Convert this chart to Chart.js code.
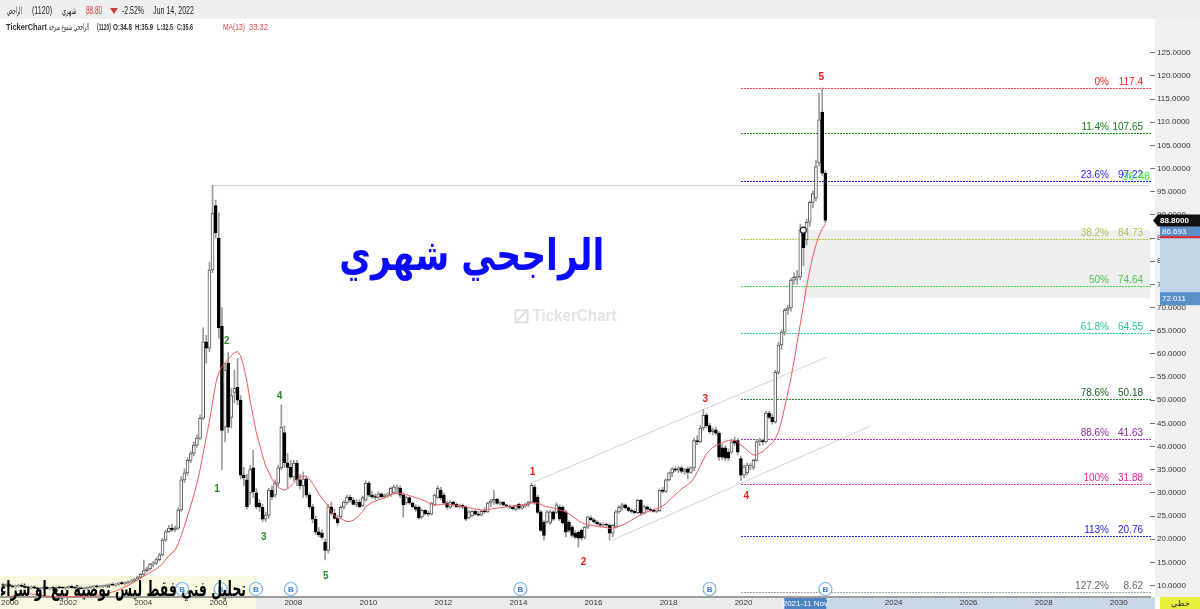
<!DOCTYPE html>
<html>
<head>
<meta charset="utf-8">
<script src="https://cdn.jsdelivr.net/npm/chart.js@4.4.0/dist/chart.umd.min.js"></script>
<style>
  html, body { margin: 0; padding: 0; background: #fff; }
  #wrap { width: 1200px; height: 609px; position: relative; }
</style>
</head>
<body>
<div id="wrap"><canvas id="chart"></canvas></div>
<script>
// --- Data: Al Rajhi (1120), monthly candles Jul 2000 .. Jun 2022 ---
const FIRST_YEAR = 2000, FIRST_MONTH = 7;

// [open, high, low, close], one row per year
const candles = [
  [10.1,10.5,9.8,10.0],[10.0,10.4,9.7,10.2],[10.2,10.5,9.8,9.9],[9.9,10.2,9.5,9.7],[9.7,10.1,9.4,9.9],[9.9,10.3,9.6,10.0],
  [10.0,10.4,9.7,9.8],[9.8,10.1,9.4,9.6],[9.6,9.9,9.2,9.5],[9.5,9.9,9.2,9.7],[9.7,10.0,9.3,9.4],[9.4,9.7,9.0,9.3],[9.3,9.6,8.9,9.4],[9.4,9.8,9.1,9.6],[9.6,9.9,9.2,9.3],[9.3,9.6,9.0,9.5],[9.5,9.8,9.2,9.4],[9.4,9.8,9.1,9.6],
  [9.6,9.9,9.3,9.5],[9.5,9.8,9.2,9.4],[9.4,9.8,9.1,9.6],[9.6,10.0,9.3,9.8],[9.8,10.1,9.4,9.5],[9.5,9.8,9.2,9.4],[9.4,9.7,9.1,9.5],[9.5,9.8,9.2,9.3],[9.3,9.6,9.0,9.4],[9.4,9.8,9.1,9.6],[9.6,9.9,9.3,9.7],[9.7,10.0,9.4,9.8],
  [9.8,10.1,9.5,9.7],[9.7,10.0,9.4,9.8],[9.8,10.1,9.5,9.9],[9.9,10.3,9.6,10.0],[10.0,10.4,9.7,10.2],[10.2,10.6,9.9,10.1],[10.1,10.5,9.8,10.3],[10.3,10.7,10.0,10.5],[10.5,10.9,10.2,10.4],[10.4,10.8,10.1,10.6],[10.6,11.0,10.3,10.8],[10.8,11.3,10.5,11.0],
  [11.0,11.6,10.8,11.4],[11.4,12.0,11.1,11.8],[11.8,12.6,11.5,12.4],[12.4,15.5,12.2,13.2],[13.2,14.0,12.8,13.6],[13.6,14.8,13.3,14.6],[14.6,15.2,14.0,14.8],[14.8,16.0,14.5,15.6],[15.6,17.0,15.3,16.6],[16.6,20.2,16.4,19.8],[19.8,22.0,19.5,21.6],[21.6,23.0,21.5,22.4],
  [22.4,23.2,21.6,22.0],[22.0,22.8,21.6,22.4],[22.4,26.8,22.1,26.3],[26.3,33.5,26.0,32.8],[32.8,35.2,32.2,34.3],[34.3,37.6,33.8,37.0],[37.0,39.0,36.5,38.5],[38.5,41.0,38.0,40.3],[40.3,42.5,39.8,41.8],[41.8,46.8,41.5,46.1],[46.1,65.6,45.8,62.6],[62.6,64.0,58.0,61.2],
  [61.2,79.8,60.5,78.1],[78.1,96.4,77.5,90.4],[92.0,93.2,85.0,86.1],[85.0,90.4,63.4,65.6],[66.0,70.0,35.0,43.5],[44.2,58.0,41.0,56.5],[58.0,60.3,43.0,44.2],[46.3,52.5,44.0,51.0],[51.7,56.5,49.4,52.6],[52.8,59.0,49.0,50.0],[50.0,51.0,33.0,33.8],[33.8,35.5,31.5,33.2],
  [32.8,34.0,26.5,27.0],[30.0,36.0,27.5,35.0],[35.4,39.2,29.0,30.2],[30.0,31.0,26.5,27.0],[27.8,28.5,26.0,26.9],[26.9,27.5,23.8,24.3],[24.3,25.8,23.8,25.2],[25.2,31.0,24.5,30.6],[30.6,31.5,28.5,29.1],[29.5,32.8,29.0,32.1],[32.1,36.0,31.5,35.4],[35.4,49.0,35.0,44.2],
  [43.0,44.5,35.5,36.5],[36.5,38.5,31.0,35.5],[35.5,37.0,33.0,33.4],[33.4,37.0,32.5,36.4],[36.4,37.0,31.5,32.8],[32.8,34.0,30.8,31.5],[31.5,34.5,29.0,33.0],[33.0,33.5,29.0,29.5],[29.5,30.0,26.5,27.0],[27.0,27.5,23.5,24.3],[24.3,25.0,21.0,21.5],[21.6,22.5,20.5,20.9],
  [21.3,22.0,20.0,20.4],[19.4,20.0,15.5,17.6],[17.6,27.5,17.0,27.0],[27.0,28.0,25.2,25.6],[25.6,26.5,24.3,24.5],[24.5,25.2,23.0,23.5],[24.8,27.2,24.5,26.9],[26.9,28.3,26.5,28.0],[27.8,29.5,27.5,29.1],[29.1,29.5,28.0,28.4],[28.4,29.0,27.3,27.5],[27.5,28.6,27.0,28.0],
  [28.0,28.5,26.8,27.0],[27.2,29.3,27.0,29.0],[28.4,32.6,28.2,32.1],[32.1,32.5,29.2,29.5],[29.5,30.4,28.8,29.2],[29.2,29.8,28.6,29.0],[29.0,30.2,28.8,29.8],[29.8,30.0,28.9,29.2],[29.2,29.8,28.8,29.5],[29.5,30.0,29.0,29.6],[29.6,31.3,29.2,31.0],[30.0,31.6,29.8,31.3],
  [31.0,31.8,30.0,31.0],[31.0,31.5,29.0,29.5],[29.5,30.0,24.8,27.4],[27.8,29.3,27.5,29.0],[29.0,29.2,27.5,27.8],[27.8,28.0,26.8,27.0],[27.0,27.4,26.0,26.4],[26.9,27.2,24.3,24.6],[24.8,26.5,24.5,26.2],[26.2,26.4,25.2,25.5],[25.5,26.0,25.0,25.4],[25.4,28.0,25.2,27.8],
  [27.4,29.8,27.2,29.5],[29.0,31.5,28.8,31.0],[30.6,31.2,28.5,28.9],[29.5,30.0,27.5,27.8],[27.8,28.2,26.5,26.9],[26.9,28.3,26.6,28.0],[28.0,28.2,27.2,27.5],[27.5,27.8,26.8,27.0],[27.0,27.6,26.7,27.3],[27.3,27.6,26.6,26.9],[26.9,27.2,24.0,24.3],[24.6,26.2,24.5,25.9],
  [25.0,26.2,24.8,26.0],[26.0,26.3,25.2,25.4],[25.4,26.0,25.0,25.2],[25.2,26.2,25.0,26.0],[26.0,26.8,25.5,25.9],[25.9,28.0,25.7,27.8],[27.8,28.6,27.0,28.2],[28.2,30.6,27.5,28.6],[28.6,28.8,27.5,27.7],[27.7,28.2,27.3,28.0],[28.0,28.1,27.2,27.4],[27.4,27.6,26.9,27.2],
  [27.0,27.4,26.6,26.9],[26.9,27.2,26.3,26.6],[26.4,27.4,26.2,27.2],[27.5,27.8,26.5,26.7],[26.7,27.4,26.4,27.2],[27.2,27.8,26.8,27.5],[27.5,28.2,27.0,28.0],[28.0,32.1,27.8,31.6],[31.3,31.8,27.5,27.8],[29.1,29.5,25.5,25.8],[25.9,26.2,21.6,21.9],[23.7,24.0,19.8,20.8],
  [23.7,26.2,23.4,25.9],[23.5,26.3,23.2,25.9],[25.9,26.2,24.0,24.3],[25.8,27.8,25.5,27.4],[27.0,27.4,24.0,24.3],[26.9,27.2,23.2,23.5],[25.9,26.2,20.5,21.5],[23.7,24.0,21.5,21.9],[22.6,23.0,20.5,20.8],[21.3,21.8,20.2,20.4],[21.5,21.8,18.3,20.2],[21.9,22.2,19.8,20.2],
  [20.4,22.8,20.0,22.6],[22.6,25.0,22.3,24.8],[24.6,25.0,24.0,24.2],[24.2,24.5,23.4,23.7],[23.7,24.0,23.0,23.3],[23.3,23.6,22.6,23.0],[23.0,23.6,22.6,23.2],[23.2,23.5,22.5,23.0],[23.0,23.3,19.8,21.3],[21.3,23.2,20.5,23.0],[22.6,26.2,22.4,25.9],[25.9,27.2,25.6,26.9],
  [26.9,27.8,26.2,27.4],[27.4,27.6,26.5,26.8],[26.8,27.0,25.9,26.2],[26.2,26.6,25.7,26.0],[26.0,26.4,25.4,25.7],[25.7,28.6,25.5,28.4],[28.4,28.6,25.2,25.6],[25.6,27.3,25.4,27.0],[27.0,27.2,26.2,26.5],[26.5,26.8,25.9,26.2],[26.2,26.4,25.8,26.0],[26.0,26.3,25.7,26.1],
  [26.1,30.8,26.0,30.6],[30.6,31.2,30.0,30.3],[30.3,33.0,30.1,32.8],[32.8,34.5,32.5,34.3],[34.3,35.4,33.5,35.2],[35.2,35.6,34.6,34.9],[34.9,35.6,34.4,35.4],[35.4,35.8,34.2,34.6],[34.6,35.3,34.0,35.0],[35.2,35.6,33.0,34.4],[34.4,35.6,34.2,35.4],[35.4,41.8,34.8,41.3],
  [41.3,42.3,40.4,41.0],[41.0,44.5,40.8,44.0],[44.0,48.0,43.5,46.8],[46.8,47.2,44.0,44.5],[44.5,45.0,42.8,43.2],[43.2,44.0,42.5,43.6],[43.6,44.2,42.5,42.9],[42.9,43.2,37.0,37.7],[39.7,40.5,37.2,37.7],[39.7,40.2,37.0,37.5],[38.8,39.5,37.0,37.5],[38.8,41.5,38.5,41.0],
  [41.3,42.0,40.2,40.7],[41.3,41.8,38.2,38.8],[37.4,38.0,32.7,33.8],[33.8,36.0,33.2,35.6],[34.3,36.4,33.8,36.0],[35.8,36.4,35.0,36.0],[35.5,37.3,35.0,37.0],[37.0,41.5,36.8,41.0],[41.0,41.8,40.2,41.3],[41.3,41.6,40.3,41.0],[41.0,47.6,40.8,47.2],[47.2,47.6,46.0,46.3],
  [46.3,47.0,44.8,45.3],[45.3,56.5,45.0,56.0],[56.0,62.5,55.5,61.9],[61.9,65.2,61.0,64.7],[64.7,69.8,64.0,69.4],[69.4,70.5,68.5,69.9],[69.9,76.3,69.2,75.9],[75.9,77.5,75.0,76.5],[76.5,78.0,75.0,76.6],[76.6,88.0,76.0,86.7],[86.7,87.0,79.0,82.9],[84.6,89.0,83.5,88.4],
  [88.4,93.0,87.5,92.7],[92.7,95.2,91.5,94.6],[93.6,101.8,93.0,100.4],[101.2,116.3,100.5,110.5],[112.2,117.4,98.5,99.0],[99.0,99.5,88.2,88.8]
];

// MA(13), one value per candle
const ma13 = [
  7.2,7.3,7.5,7.7,7.9,8.0,
  8.1,8.2,8.2,8.2,8.1,8.0,7.9,7.8,7.7,7.7,7.6,7.6,
  7.6,7.6,7.6,7.6,7.6,7.6,7.6,7.6,7.6,7.6,7.7,7.8,
  7.9,8.0,8.1,8.2,8.4,8.6,8.8,9.1,9.4,9.7,10.0,10.4,
  10.8,11.2,11.6,12.0,12.4,12.8,13.2,13.6,14.1,14.8,15.6,16.4,
  17.0,17.6,19.0,20.8,22.8,25.0,27.2,29.5,32.0,35.0,38.5,42.0,
  45.5,49.5,53.5,56.0,57.2,58.0,58.8,59.6,60.3,60.5,59.5,57.2,
  54.0,50.0,46.5,43.0,40.5,38.0,35.8,34.5,33.0,32.0,31.2,30.8,
  30.6,30.8,31.5,32.2,32.8,33.4,33.6,33.6,33.0,32.0,31.0,29.8,
  28.8,28.0,27.0,26.0,25.0,24.5,24.5,24.1,23.8,23.8,24.1,24.6,
  25.2,26.0,27.0,27.5,27.9,28.2,28.5,28.7,29.0,29.3,29.6,29.8,
  29.9,29.9,29.8,29.6,29.4,29.2,28.9,28.8,28.5,28.2,27.9,27.6,
  27.4,27.4,27.5,27.6,27.6,27.5,27.4,27.3,27.2,27.1,27.0,26.8,
  26.6,26.5,26.4,26.3,26.3,26.4,26.5,26.6,26.7,26.8,26.9,27.0,
  27.1,27.2,27.2,27.3,27.4,27.5,27.6,27.8,27.9,27.8,27.5,27.2,
  27.0,26.9,26.7,26.5,26.3,26.1,25.9,25.5,25.0,24.5,24.0,23.6,
  23.3,23.1,23.0,22.9,22.8,22.7,22.6,22.5,22.3,22.4,22.6,22.8,
  23.0,23.3,23.7,24.1,24.5,24.9,25.3,25.6,25.9,26.2,26.4,26.6,
  26.8,27.2,27.7,28.3,29.0,29.6,30.2,30.8,31.3,31.8,32.3,33.2,
  34.5,35.8,37.2,38.4,39.2,39.8,40.2,40.5,40.8,41.1,41.3,41.4,
  41.3,40.9,40.3,39.8,39.2,38.6,38.2,38.2,38.6,38.9,39.5,40.2,
  40.7,41.8,43.0,45.5,48.5,51.5,54.8,58.5,62.5,66.5,70.5,74.5,
  78.0,81.0,83.5,85.5,87.0,88.0
];

const yTicks = [10,15,20,25,30,35,40,45,50,55,60,65,70,75,80,85,90,95,100,105,110,115,120,125];
const xYears = [2002,2004,2006,2008,2010,2012,2014,2016,2018,2020,2022,2024,2026,2028,2030];

// Fibonacci retracement
const fibPercents = ['0%','11.4%','23.6%','38.2%','50%','61.8%','78.6%','88.6%','100%','113%','127.2%'];
const fibValues   = [117.4,107.65,97.22,84.73,74.64,64.55,50.18,41.63,31.88,20.76,8.62];
const fibStart = 2020.17;

// Elliott wave labels (time, price)
const greenWaveText  = ['1','2','3','4','5'];
const greenWaveTime  = [2006.20,2006.46,2007.45,2007.87,2009.10];
const greenWavePrice = [30.8,62.8,20.5,50.9,12.0];
const redWaveText  = ['1','2','3','4','5'];
const redWaveTime  = [2014.61,2015.97,2019.22,2020.31,2022.31];
const redWavePrice = [34.5,15.1,50.3,29.3,119.8];

// trend channel, previous high, range box, dividends
const channelUpper = [[2014.64,32.3],[2022.45,59.3]];
const channelLower = [[2016.74,19.8],[2023.61,44.4]];
const prevHigh = [2006.08, 96.45];
const rangeBox = [2021.83, 72.011, 86.693];
const dividendTimes = [2005.27,2006.30,2007.24,2008.17,2014.29,2019.33,2022.42];
const lastClose = 88.80;

// --- Axis geometry ---
const X_MIN = 2000.4446, X_MAX = 2031.0706;
const Y_MIN = 7.52, Y_MAX = 132.27;

const candleTimes = candles.map((_, i) => FIRST_YEAR + (FIRST_MONTH - 1 + i) / 12);
const isUp = c => c[3] >= c[0];

const FIB_LINE = ['#ff4040','#10a010','#2020ff','#b4d040','#40dd40','#20d8a0','#2a802a','#a830c0','#f030a8','#3030ff','#a0a0a0'];
const FIB_TEXT = ['#ff2020','#1a7a1a','#1e1eff','#a8c455','#4cc44c','#25c895','#1d5e1d','#8d2c9e','#e0259b','#2424f0','#666666'];

// draw text squeezed/stretched to a given width, left aligned
function fitText(ctx, text, x, y, w) {
  const m = ctx.measureText(text).width;
  ctx.save();
  ctx.translate(x, y);
  ctx.scale(w / m, 1);
  ctx.fillText(text, 0, 0);
  ctx.restore();
}

// pixel-exact dotted horizontal line
function dotLine(ctx, x0, x1, y, color) {
  ctx.fillStyle = color;
  const yy = Math.round(y);
  for (let x = Math.round(x0); x < x1; x += 3) ctx.fillRect(x, yy, 2, 1);
}

const overlay = {
  id: 'overlay',
  beforeDraw(chart) {
    const { ctx, chartArea: a, width, height } = chart;
    const sx = v => chart.scales.x.getPixelForValue(v);
    ctx.save();
    ctx.fillStyle = '#fff';
    ctx.fillRect(0, 0, width, height);
    // header bar
    ctx.fillStyle = '#efefef';
    ctx.fillRect(0, 0, width, 19);
    // price axis panel
    ctx.fillStyle = '#f1f1f1';
    ctx.fillRect(a.right + 5, 19, width - a.right - 5, a.bottom - 19);
    // time axis strip
    ctx.fillStyle = '#ebebeb';
    ctx.fillRect(0, a.bottom, a.right + 5, height - a.bottom);
    ctx.fillStyle = '#c9d8e8';
    ctx.fillRect(sx(rangeBox[0]), a.bottom, a.right - sx(rangeBox[0]) + 5, height - a.bottom);
    // disclaimer background
    ctx.fillStyle = '#fafae3';
    ctx.fillRect(0, a.bottom - 21, 256, height - a.bottom + 21);
    ctx.restore();
  },
  beforeDatasetsDraw(chart) {
    const { ctx, chartArea: a } = chart;
    const sx = v => chart.scales.x.getPixelForValue(v);
    const sy = v => chart.scales.y.getPixelForValue(v);
    ctx.save();
    // range box
    ctx.fillStyle = '#efefef';
    ctx.fillRect(sx(rangeBox[0]), sy(rangeBox[2]), a.right - sx(rangeBox[0]), sy(rangeBox[1]) - sy(rangeBox[2]));
    // watermark
    const wx = sx(2015.49), wy = sy(68.1);
    ctx.fillStyle = '#e3e3e3';
    ctx.font = 'bold 16px "Liberation Sans"';
    ctx.textAlign = 'left';
    ctx.textBaseline = 'middle';
    fitText(ctx, 'TickerChart', wx - 33, wy, 84);
    ctx.strokeStyle = '#e0e0e0';
    ctx.lineWidth = 2;
    ctx.strokeRect(wx - 50, wy - 6, 12, 12);
    ctx.beginPath(); ctx.moveTo(wx - 48, wy + 4); ctx.lineTo(wx - 40, wy - 4); ctx.stroke();
    // previous high line
    ctx.strokeStyle = '#d4d4d4';
    ctx.lineWidth = 1;
    const yp = Math.round(sy(prevHigh[1])) + 0.5;
    ctx.beginPath();
    ctx.moveTo(sx(prevHigh[0]), yp);
    ctx.lineTo(a.right, yp);
    ctx.stroke();
    // channel
    ctx.strokeStyle = '#d2d2d2';
    [channelUpper, channelLower].forEach(l => {
      ctx.beginPath();
      ctx.moveTo(sx(l[0][0]), sy(l[0][1]));
      ctx.lineTo(sx(l[1][0]), sy(l[1][1]));
      ctx.stroke();
    });
    // fib lines
    fibValues.forEach((v, i) => dotLine(ctx, sx(fibStart), a.right, sy(v), FIB_LINE[i]));
    ctx.restore();
  },
  afterDatasetsDraw(chart) {
    const { ctx, chartArea: a } = chart;
    const sx = v => chart.scales.x.getPixelForValue(v);
    const sy = v => chart.scales.y.getPixelForValue(v);
    ctx.save();
    // fib labels
    ctx.font = '10px "Liberation Sans"';
    ctx.textBaseline = 'alphabetic';
    ctx.textAlign = 'right';
    fibValues.forEach((v, i) => {
      const y = Math.round(sy(v)) - 3;
      ctx.fillStyle = FIB_TEXT[i];
      ctx.fillText(fibPercents[i], a.right - 41, y);
      ctx.fillText(String(v), a.right - 7, y);
    });
    ctx.fillStyle = '#33ee33';
    ctx.font = '11px "Liberation Sans"';
    ctx.fillText('96.48', a.right, Math.round(sy(fibValues[2])) - 1);

    // wave labels
    ctx.font = 'bold 10px "Liberation Sans"';
    ctx.textAlign = 'center';
    ctx.textBaseline = 'middle';
    ctx.fillStyle = '#2a8a2a';
    greenWaveText.forEach((t, i) => ctx.fillText(t, sx(greenWaveTime[i]), sy(greenWavePrice[i])));
    ctx.fillStyle = '#f01818';
    redWaveText.forEach((t, i) => ctx.fillText(t, sx(redWaveTime[i]), sy(redWavePrice[i])));

    // marker on Nov 2021 candle
    ctx.beginPath();
    ctx.arc(sx(rangeBox[0]), sy(rangeBox[2]), 3, 0, Math.PI * 2);
    ctx.fillStyle = '#fff';
    ctx.fill();
    ctx.strokeStyle = '#222';
    ctx.lineWidth = 1.2;
    ctx.stroke();

    // title
    ctx.fillStyle = '#0a0aff';
    ctx.font = 'bold 44px "DejaVu Sans"';
    ctx.textAlign = 'left';
    ctx.textBaseline = 'alphabetic';
    fitText(ctx, 'الراجحي شهري', sx(2009.46), sy(78.0), 265);

    // dividend markers
    dividendTimes.forEach(t => {
      const x = sx(t), y = a.bottom - 8;
      ctx.beginPath();
      ctx.arc(x, y, 6.5, 0, Math.PI * 2);
      ctx.fillStyle = 'rgba(255,255,255,0.85)';
      ctx.fill();
      ctx.strokeStyle = '#7ab2ea';
      ctx.lineWidth = 1.2;
      ctx.stroke();
      ctx.fillStyle = '#3a7fd0';
      ctx.font = 'bold 8px "Liberation Sans"';
      ctx.textAlign = 'center';
      ctx.textBaseline = 'middle';
      ctx.fillText('B', x, y + 0.5);
    });

    // disclaimer
    ctx.fillStyle = '#000';
    ctx.font = 'bold 21px "DejaVu Sans"';
    ctx.textAlign = 'left';
    ctx.textBaseline = 'alphabetic';
    fitText(ctx, 'تحليل فني فقط ليس توصية بيع او شراء', 0, a.bottom - 1, 246);
    ctx.restore();
  },
  afterDraw(chart) {
    const { ctx, chartArea: a, width, height } = chart;
    const sx = v => chart.scales.x.getPixelForValue(v);
    const sy = v => chart.scales.y.getPixelForValue(v);
    ctx.save();
    ctx.textBaseline = 'middle';
    ctx.textAlign = 'left';

    // header line 1
    ctx.font = '10px "Liberation Sans"';
    ctx.fillStyle = '#222';
    fitText(ctx, 'الراجحي', 7, 11, 15);
    fitText(ctx, '(1120)', 32, 11, 20);
    fitText(ctx, 'شهري', 62, 11, 14);
    ctx.fillStyle = '#d03a3a';
    fitText(ctx, '88.80', 86, 11, 16);
    ctx.beginPath(); ctx.moveTo(110, 8); ctx.lineTo(118, 8); ctx.lineTo(114, 14); ctx.closePath(); ctx.fill();
    ctx.fillStyle = '#222';
    fitText(ctx, '-2.52%', 122, 11, 22);
    fitText(ctx, 'Jun 14, 2022', 153, 11, 41);

    // header line 2
    ctx.font = 'bold 9px "Liberation Sans"';
    ctx.fillStyle = '#333';
    fitText(ctx, 'TickerChart', 6, 28, 41);
    ctx.font = '9px "DejaVu Sans"';
    fitText(ctx, 'الراجحي شموع مبرخة', 49, 28, 40);
    ctx.font = 'bold 9px "Liberation Sans"';
    fitText(ctx, '(1120)', 97, 28, 14);
    fitText(ctx, 'O:34.8', 113, 28, 19);
    fitText(ctx, 'H:35.9', 135, 28, 18);
    fitText(ctx, 'L:32.5', 157, 28, 16);
    fitText(ctx, 'C:35.6', 177, 28, 16);
    ctx.fillStyle = '#e04848';
    ctx.font = '9px "Liberation Sans"';
    fitText(ctx, 'MA(13)', 223, 28, 22);
    fitText(ctx, '33.32', 249, 28, 19);

    // price axis overlays
    const ax = a.right + 10;
    const yHi = sy(rangeBox[2]), yLo = sy(rangeBox[1]);
    ctx.fillStyle = '#c3d5e9';
    ctx.fillRect(ax, yHi, width - ax, yLo - yHi);
    ctx.fillStyle = '#5a8fca';
    ctx.fillRect(ax, yLo - 6, width - ax, 13);
    ctx.fillRect(ax, yHi - 4, width - ax, 12);
    ctx.fillStyle = '#e02a2a';
    ctx.fillRect(ax, yHi + 6, width - ax, 2);
    ctx.fillStyle = '#fff';
    ctx.font = '8px "Liberation Sans"';
    ctx.fillText('72.011', ax + 2, yLo + 0.5);
    ctx.fillText('86.693', ax + 2, yHi + 2);
    const yc = sy(lastClose);
    ctx.fillStyle = '#111';
    ctx.beginPath();
    ctx.moveTo(a.right + 3, yc);
    ctx.lineTo(ax - 2, yc - 6);
    ctx.lineTo(width, yc - 6);
    ctx.lineTo(width, yc + 6);
    ctx.lineTo(ax - 2, yc + 6);
    ctx.closePath();
    ctx.fill();
    ctx.fillStyle = '#fff';
    ctx.font = 'bold 8px "Liberation Sans"';
    ctx.fillText(lastClose.toFixed(4), ax, yc + 0.5);

    // time axis cursor label
    const cx = sx(rangeBox[0]);
    ctx.fillStyle = '#4f84c4';
    ctx.fillRect(cx - 19, a.bottom + 1, 42, height - a.bottom - 1);
    ctx.fillStyle = '#fff';
    ctx.font = '8px "Liberation Sans"';
    ctx.textAlign = 'center';
    ctx.fillText('2021-11 Nov', cx + 2, a.bottom + 6.5);

    // chart type box
    ctx.fillStyle = '#e6ef3a';
    ctx.fillRect(ax, a.bottom, width - ax, height - a.bottom);
    ctx.fillStyle = '#222';
    ctx.fillText('خطي', ax + (width - ax) / 2, a.bottom + 6.5);
    ctx.restore();
  }
};

new Chart(document.getElementById('chart'), {
  type: 'bar',
  data: {
    datasets: [
      {
        type: 'line',
        data: ma13.map((v, i) => ({ x: candleTimes[i], y: v })),
        borderColor: '#f25858',
        borderWidth: 1,
        pointRadius: 0,
        tension: 0,
        order: 1
      },
      {
        data: candles.map((c, i) => ({ x: candleTimes[i], y: [c[0], c[3]] })),
        backgroundColor: ctx => isUp(candles[ctx.dataIndex]) ? '#ffffff' : '#000000',
        borderColor: ctx => isUp(candles[ctx.dataIndex]) ? '#555555' : '#000000',
        borderWidth: 1,
        borderSkipped: false,
        barThickness: 3,
        minBarLength: 1,
        grouped: false,
        order: 2
      },
      {
        data: candles.map((c, i) => ({ x: candleTimes[i], y: [c[2], c[1]] })),
        backgroundColor: '#9a9a9a',
        barThickness: 1,
        grouped: false,
        order: 3
      }
    ]
  },
  options: {
    responsive: true,
    maintainAspectRatio: false,
    animation: false,
    devicePixelRatio: 1,
    layout: { padding: { top: 19, left: 0, right: 0, bottom: 0 } },
    plugins: { legend: { display: false }, tooltip: { enabled: false } },
    scales: {
      x: {
        type: 'linear',
        min: X_MIN,
        max: X_MAX,
        offset: false,
        grid: { display: false, drawTicks: false },
        border: { display: true, color: '#9c9c9c', width: 2 },
        ticks: {
          align: 'start',
          autoSkip: false,
          maxRotation: 0,
          padding: 1,
          color: '#333',
          font: { family: 'Liberation Sans', size: 8 },
          callback: v => String(Math.floor(v))
        },
        afterBuildTicks: s => { s.ticks = [{ value: X_MIN }].concat(xYears.map(v => ({ value: v }))); },
        afterFit: s => { s.height = 12; }
      },
      y: {
        position: 'right',
        min: Y_MIN,
        max: Y_MAX,
        grid: { display: true, drawOnChartArea: false, drawTicks: true, tickLength: 5, color: '#777' },
        border: { display: false },
        ticks: {
          padding: 2,
          color: '#333',
          font: { family: 'Liberation Sans', size: 8 },
          callback: v => Number(v).toFixed(4)
        },
        afterBuildTicks: s => { s.ticks = yTicks.map(v => ({ value: v })); },
        afterFit: s => { s.width = 50; }
      }
    }
  },
  plugins: [overlay]
});
</script>
</body>
</html>
